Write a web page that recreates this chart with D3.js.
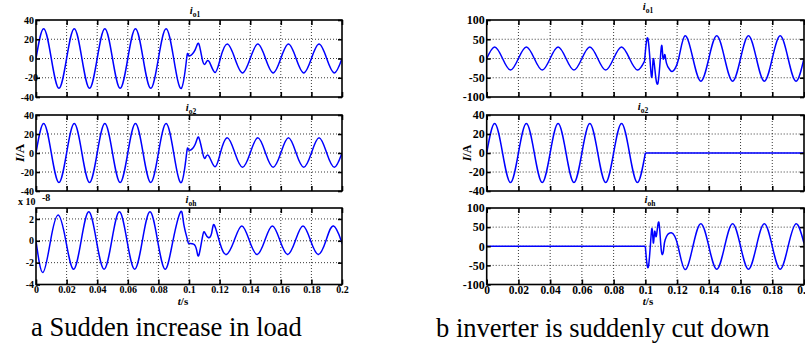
<!DOCTYPE html>
<html>
<head>
<meta charset="utf-8">
<script src="https://cdnjs.cloudflare.com/ajax/libs/d3/7.8.5/d3.min.js"></script>
<style>
  body { margin: 0; background: #fff; }
  svg text { font-family: "Liberation Serif", "Times New Roman", serif; }
</style>
</head>
<body>
<svg id="chart" width="805" height="345"></svg>
<script>
// shared time axis
const timeTicks = [0, 0.02, 0.04, 0.06, 0.08, 0.1, 0.12, 0.14, 0.16, 0.18, 0.2];
const timeLabels = ["0", "0.02", "0.04", "0.06", "0.08", "0.1", "0.12", "0.14", "0.16", "0.18", "0.2"];

// y ticks
const ticks40 = [-40, -20, 0, 20, 40];
const ticks100 = [-100, -50, 0, 50, 100];
const ticksOh = [-4, -2, 0, 2];

// a: sudden increase in load (key points)
const aO1Time = [0, 0.005, 0.01, 0.015, 0.02, 0.025, 0.03, 0.035, 0.04, 0.045, 0.05, 0.055, 0.06, 0.065, 0.07, 0.075, 0.08, 0.085, 0.09, 0.095,
  0.0985, 0.1, 0.104, 0.1065, 0.109, 0.111, 0.1133, 0.117, 0.1205,
  0.125, 0.13, 0.135, 0.14, 0.145, 0.15, 0.155, 0.16, 0.165, 0.17, 0.175, 0.18, 0.185, 0.19, 0.195, 0.2];
const aO1Val = [0, 31, 0, -31, 0, 31, 0, -31, 0, 31, 0, -31, 0, 31, 0, -31, 0, 31, 0, -31,
  0.5, 3, 9, 15, -3, -4.5, -3.5, -14.5, 0,
  15, 0, -15, 0, 15, 0, -15, 0, 15, 0, -15, 0, 15, 0, -15, 0];

const aO2Time = [0, 0.005, 0.01, 0.015, 0.02, 0.025, 0.03, 0.035, 0.04, 0.045, 0.05, 0.055, 0.06, 0.065, 0.07, 0.075, 0.08, 0.085, 0.09, 0.095,
  0.0985, 0.1, 0.104, 0.1065, 0.1094, 0.111, 0.1133, 0.117, 0.1205,
  0.125, 0.13, 0.135, 0.14, 0.145, 0.15, 0.155, 0.16, 0.165, 0.17, 0.175, 0.18, 0.185, 0.19, 0.195, 0.2];
const aO2Val = [0, 31, 0, -31, 0, 31, 0, -31, 0, 31, 0, -31, 0, 31, 0, -31, 0, 31, 0, -31,
  0.5, 3, 9, 16, -3, -4, -4, -14.5, 0,
  16, 0, -15, 0, 16, 0, -15, 0, 16, 0, -15, 0, 16, 0, -15, 0];

// x 10^-8
const aOhTime = [0, 0.0045, 0.0095, 0.0145, 0.0195, 0.0245, 0.0295, 0.0345, 0.0395, 0.0445, 0.0495, 0.0545, 0.0595, 0.0645, 0.0695, 0.0745, 0.0795, 0.0845, 0.0895, 0.0945,
  0.0965, 0.099, 0.1, 0.103, 0.105, 0.1065, 0.109, 0.1105, 0.1126, 0.1148, 0.1165, 0.1203,
  0.1245, 0.1295, 0.1345, 0.1395, 0.1445, 0.1495, 0.1545, 0.1595, 0.1645, 0.1695, 0.1745, 0.1795, 0.1845, 0.1895, 0.1945, 0.1995, 0.2];
const aOhVal = [0, -2.9, 0, 2.35, 0, -2.6, 0, 2.65, 0, -2.6, 0, 2.65, 0, -2.6, 0, 2.65, 0, -2.6, 0, 2.65,
  1.6, 0.1, -0.25, -0.3, -0.85, -1.3, 0.5, 0.7, 0.3, 0.7, 1.45, -0.25,
  -1.25, 0, 1.35, 0, -1.25, 0, 1.35, 0, -1.25, 0, 1.35, 0, -1.25, 0, 1.35, 0, -0.1];

// b: inverter is suddenly cut down (null = break between pieces)
const bO1Time = [0, 0.005, 0.01, 0.015, 0.02, 0.025, 0.03, 0.035, 0.04, 0.045, 0.05, 0.055, 0.06, 0.065, 0.07, 0.075, 0.08, 0.085, 0.09, 0.095, 0.0995,
  0.0995, 0.0995, 0.1017, 0.1038, 0.1048, 0.1059, 0.108, 0.1101, 0.1111, 0.1122, 0.1133, 0.1154, 0.1174, 0.121,
  0.125, 0.13, 0.135, 0.14, 0.145, 0.15, 0.155, 0.16, 0.165, 0.17, 0.175, 0.18, 0.185, 0.19, 0.195, 0.2];
const bO1Val = [0, 30, 0, -30, 0, 30, 0, -30, 0, 30, 0, -30, 0, 30, 0, -30, 0, 30, 0, -30, -7,
  null, -7, 50, -46, -7, -24, -63, 31, 1, 10, -12, -29, -33, 0,
  59, 0, -59, 0, 59, 0, -59, 0, 59, 0, -59, 0, 59, 0, -59, 0];

const bO2Time = [0, 0.005, 0.01, 0.015, 0.02, 0.025, 0.03, 0.035, 0.04, 0.045, 0.05, 0.055, 0.06, 0.065, 0.07, 0.075, 0.08, 0.085, 0.09, 0.095, 0.1,
  0.1, 0.1, 0.2];
const bO2Val = [0, 31, 0, -31, 0, 31, 0, -31, 0, 31, 0, -31, 0, 31, 0, -31, 0, 31, 0, -31, 0,
  null, 0, 0];

const bOhTime = [0, 0.1, 0.1, 0.1, 0.102, 0.104, 0.105, 0.1059, 0.1069, 0.1085, 0.11, 0.1114, 0.1125, 0.1164, 0.1206,
  0.125, 0.13, 0.135, 0.14, 0.145, 0.15, 0.155, 0.16, 0.165, 0.17, 0.175, 0.18, 0.185, 0.19, 0.195, 0.2];
const bOhVal = [0, 0, null, 0, -52, 44, 9, 39, 26, 63, -9, -13, 17, 35, 0,
  -61, 0, 59, 0, -60, 0, 59, 0, -60, 0, 59, 0, -60, 0, 59, 8];

// layout
const cols = [
  { x0: 36, x1: 342, fs: 10, xfs: 10 },
  { x0: 486.7, x1: 804, fs: 12, xfs: 11.5 }
];
const rows = [[20, 97], [115, 191], [208, 284.5]];

const plots = [
  { col: 0, row: 0, t: aO1Time, v: aO1Val, domain: [-40, 40], ticks: ticks40, sub: "o1", tx: 195, ty: 14, nudge: -20 },
  { col: 0, row: 1, t: aO2Time, v: aO2Val, domain: [-40, 40], ticks: ticks40, sub: "o2", tx: 191, ty: 111 },
  { col: 0, row: 2, t: aOhTime, v: aOhVal, domain: [-4, 3], ticks: ticksOh, sub: "oh", tx: 191, ty: 203 },
  { col: 1, row: 0, t: bO1Time, v: bO1Val, domain: [-100, 100], ticks: ticks100, sub: "o1", tx: 648, ty: 10 },
  { col: 1, row: 1, t: bO2Time, v: bO2Val, domain: [-40, 40], ticks: ticks40, sub: "o2", tx: 643, ty: 110 },
  { col: 1, row: 2, t: bOhTime, v: bOhVal, domain: [-100, 100], ticks: ticks100, sub: "oh", tx: 650, ty: 203 }
];

const svg = d3.select("#chart");

plots.forEach((p, i) => drawPlot(p, i));

function drawPlot(p, i) {
  let c = cols[p.col];
  let [y0, y1] = rows[p.row];

  let x = d3.scaleLinear().domain([0, 0.2]).range([c.x0, c.x1]);
  let y = d3.scaleLinear().domain(p.domain).range([y1, y0]);

  let g = svg.append("g");

  g.append("clipPath")
    .attr("id", "clip" + i)
    .append("rect")
    .attr("x", c.x0)
    .attr("y", y0)
    .attr("width", c.x1 - c.x0)
    .attr("height", y1 - y0);

  // dotted grid
  g.selectAll(".vgrid")
    .data(timeTicks.slice(1, -1))
    .join("line")
    .attr("x1", d => x(d))
    .attr("x2", d => x(d))
    .attr("y1", y0)
    .attr("y2", y1)
    .attr("stroke", "#222")
    .attr("stroke-width", 0.9)
    .attr("stroke-dasharray", "1,2");

  g.selectAll(".hgrid")
    .data(p.ticks.filter(d => d > p.domain[0] && d < p.domain[1]))
    .join("line")
    .attr("x1", c.x0)
    .attr("x2", c.x1)
    .attr("y1", d => y(d))
    .attr("y2", d => y(d))
    .attr("stroke", "#222")
    .attr("stroke-width", 0.9)
    .attr("stroke-dasharray", "1,2");

  // waveform
  let pts = p.t.map((t, k) => ({ t: t, v: p.v[k] }));
  let line = d3.line()
    .defined(d => d.v !== null)
    .x(d => x(d.t))
    .y(d => y(d.v))
    .curve(d3.curveNatural);

  g.append("path")
    .datum(pts)
    .attr("d", line)
    .attr("clip-path", `url(#clip${i})`)
    .attr("fill", "none")
    .attr("stroke", "#0000ff")
    .attr("stroke-width", 1.5);

  // inward ticks on all four sides
  let isBottom = p.row === 2;

  let bottom = g.append("g")
    .attr("transform", `translate(0,${y1})`)
    .call(d3.axisBottom(x)
      .tickValues(timeTicks)
      .tickSize(-5)
      .tickSizeOuter(0)
      .tickPadding(1)
      .tickFormat((d, k) => (isBottom ? timeLabels[k] : "")));

  let top = g.append("g")
    .attr("transform", `translate(0,${y0})`)
    .call(d3.axisTop(x).tickValues(timeTicks).tickSize(-5).tickSizeOuter(0).tickFormat(""));

  let left = g.append("g")
    .attr("transform", `translate(${c.x0},0)`)
    .call(d3.axisLeft(y)
      .tickValues(p.ticks)
      .tickSize(-4)
      .tickSizeOuter(0)
      .tickPadding(2)
      .tickFormat(d => String(d)));

  let right = g.append("g")
    .attr("transform", `translate(${c.x1},0)`)
    .call(d3.axisRight(y).tickValues(p.ticks).tickSize(-4).tickSizeOuter(0).tickFormat(""));

  [bottom, top, left, right].forEach(a => {
    a.select(".domain").remove();
    a.selectAll("line").attr("stroke", "#000").attr("stroke-width", 1.6);
    a.selectAll("text")
      .attr("fill", "#000")
      .attr("font-family", '"Liberation Serif", "Times New Roman", serif')
      .attr("font-weight", "bold");
  });

  left.selectAll("text").attr("font-size", c.fs);
  bottom.selectAll("text").attr("font-size", c.xfs);

  // the original has one label sitting a little into the box
  if (p.nudge !== undefined) {
    left.selectAll(".tick")
      .filter(d => d === p.nudge)
      .select("text")
      .attr("dx", 4);
  }

  // frame
  g.append("rect")
    .attr("x", c.x0)
    .attr("y", y0)
    .attr("width", c.x1 - c.x0)
    .attr("height", y1 - y0)
    .attr("fill", "none")
    .attr("stroke", "#000")
    .attr("stroke-width", 1.6);

  // subplot title, i with subscript
  let title = g.append("text")
    .attr("x", p.tx)
    .attr("y", p.ty)
    .attr("text-anchor", "middle")
    .attr("font-weight", "bold");

  title.append("tspan")
    .attr("font-style", "italic")
    .attr("font-size", 10.5)
    .text("i");

  title.append("tspan")
    .attr("font-size", 7.5)
    .attr("dy", 2.5)
    .text(p.sub);
}

// axis names
function yName(cx, cy, size) {
  let t = svg.append("text")
    .attr("transform", `translate(${cx},${cy}) rotate(-90)`)
    .attr("text-anchor", "middle")
    .attr("font-weight", "bold")
    .attr("font-size", size);
  t.append("tspan").attr("font-style", "italic").text("I");
  t.append("tspan").text("/A");
}

function xName(cx, cy, size) {
  let t = svg.append("text")
    .attr("x", cx)
    .attr("y", cy)
    .attr("text-anchor", "middle")
    .attr("font-weight", "bold")
    .attr("font-size", size);
  t.append("tspan").attr("font-style", "italic").text("t");
  t.append("tspan").text("/s");
}

yName(24, 153, 13);
yName(471, 153, 12);
xName(183, 305, 11);
xName(648, 305, 11);

// exponent of the i_oh scale on the left
svg.append("text")
  .attr("x", 18)
  .attr("y", 205)
  .attr("font-weight", "bold")
  .attr("font-size", 10)
  .text("x 10");

svg.append("text")
  .attr("x", 42)
  .attr("y", 201)
  .attr("font-weight", "bold")
  .attr("font-size", 10)
  .text("-8");

// captions
svg.append("text")
  .attr("x", 31)
  .attr("y", 336)
  .attr("font-size", 26.5)
  .text("a Sudden increase in load");

svg.append("text")
  .attr("x", 436)
  .attr("y", 337)
  .attr("font-size", 26.5)
  .text("b inverter is suddenly cut down");
</script>
</body>
</html>
